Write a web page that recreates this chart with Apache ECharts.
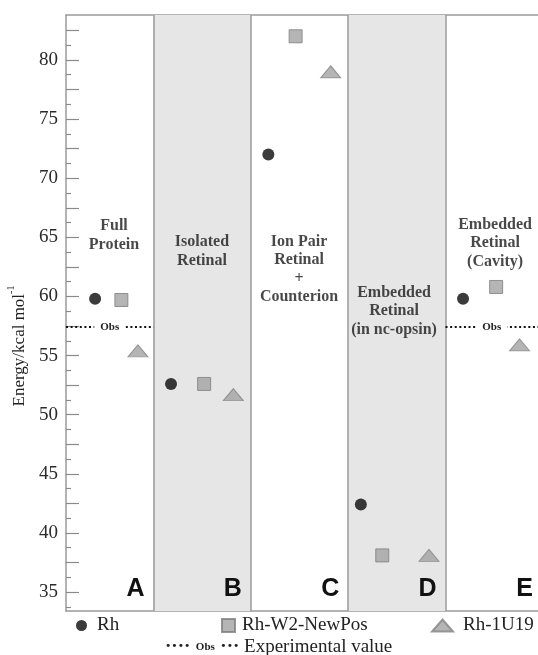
<!DOCTYPE html>
<html><head><meta charset="utf-8">
<script src="https://cdn.jsdelivr.net/npm/echarts@6/dist/echarts.min.js"></script>
<style>html,body{margin:0;padding:0;background:#fff}#c{width:538px;height:655px}</style>
</head><body><div id="c"></div>
<script>
// ---- data ----
const panelLetters = ['A', 'B', 'C', 'D', 'E'];
const panelTitles = ['Full\nProtein', 'Isolated\nRetinal', 'Ion Pair\nRetinal\n+\nCounterion', 'Embedded\nRetinal\n(in nc-opsin)', 'Embedded\nRetinal\n(Cavity)'];
const shadedPanels = [false, true, false, true, false];
// panel i spans x in [i, i+1]; x = position of the mark inside its panel
const rhX  = [0.40, 1.18, 2.18, 3.13, 4.18];
const rhY  = [59.8, 52.6, 72.0, 42.4, 59.8];
const w2X  = [0.67, 1.52, 2.46, 3.35, 4.52];
const w2Y  = [59.7, 52.6, 82.0, 38.1, 60.8];
const u19X = [0.84, 1.82, 2.82, 3.83, 4.76];
const u19Y = [55.4, 51.7, 79.0, 38.1, 55.9];
const obsValue = 57.4;
const obsPanels = [0, 4];
const yLabelValues = [35, 40, 45, 50, 55, 60, 65, 70, 75, 80];
const yLongTicks = [35, 37.5, 40, 42.5, 45, 47.5, 50, 52.5, 55, 57.5, 60, 62.5, 65, 67.5, 70, 72.5, 75, 77.5, 80, 82.5];
const yShortTicks = [33.75, 36.25, 38.75, 41.25, 43.75, 46.25, 48.75, 51.25, 53.75, 56.25, 58.75, 61.25, 63.75, 66.25, 68.75, 71.25, 73.75, 76.25, 78.75, 81.25];
const seriesNames = ['Rh', 'Rh-W2-NewPos', 'Rh-1U19'];
const obsName = 'Experimental value';

// ---- layout ----
const X_MIN = 0.101, X_MAX = 4.95, Y_MIN = 33.4, Y_MAX = 83.8;
const titleAnchors = [[0.594, 65.15], [1.498, 63.8], [2.495, 62.3], [3.471, 58.75], [4.509, 64.5]];
const SERIF = '"Liberation Serif","Times New Roman",serif';
const GRAY_LINE = '#9a9a9a';

const zip = (xs, ys) => xs.map((x, i) => [x, ys[i]]);

const panelAreas = panelLetters.map((L, i) => [
  { xAxis: Math.max(i, X_MIN), name: L,
    itemStyle: { color: shadedPanels[i] ? '#e6e6e6' : 'rgba(0,0,0,0)' },
    label: { offset: i === 4 ? [4, 0] : [0, 0] } },
  { xAxis: Math.min(i + 1, X_MAX) }
]);

const option = {
  backgroundColor: '#fff',
  animation: false,
  grid: { left: 66, right: 0, top: 15, bottom: 44, containLabel: false, outerBoundsMode: 'none' },
  xAxis: [
    { type: 'value', min: X_MIN, max: X_MAX, position: 'bottom',
      axisLine: { show: true, lineStyle: { color: GRAY_LINE, width: 1.5 } },
      axisTick: { show: false }, axisLabel: { show: false }, splitLine: { show: false } },
    { type: 'value', min: X_MIN, max: X_MAX, position: 'top',
      axisLine: { show: true, lineStyle: { color: GRAY_LINE, width: 1.5 } },
      axisTick: { show: false }, axisLabel: { show: false }, splitLine: { show: false } }
  ],
  yAxis: [
    { type: 'value', min: Y_MIN, max: Y_MAX, position: 'left',
      name: '{a|Energy/kcal mol}{s|-1}', nameLocation: 'middle', nameGap: 32, nameRotate: 90,
      nameTextStyle: { fontFamily: SERIF, fontSize: 17, color: '#222', padding: [0, 66, 0, 0],
        rich: { a: { fontFamily: SERIF, fontSize: 17, color: '#222' },
                s: { fontFamily: SERIF, fontSize: 10, color: '#222', verticalAlign: 'top', lineHeight: 26 } } },
      axisLine: { show: true, lineStyle: { color: GRAY_LINE, width: 1.5 } },
      axisTick: { show: true, inside: true, length: 13, customValues: yLongTicks, lineStyle: { color: '#8a8a8a', width: 1.2 } },
      axisLabel: { show: true, customValues: yLabelValues, margin: 8, fontFamily: SERIF, fontSize: 19, color: '#2a2a2a' },
      splitLine: { show: false } },
    { type: 'value', min: Y_MIN, max: Y_MAX, position: 'left',
      axisLine: { show: false },
      axisTick: { show: true, inside: true, length: 5, customValues: yShortTicks, lineStyle: { color: '#8a8a8a', width: 1.2 } },
      axisLabel: { show: false }, splitLine: { show: false } }
  ],
  legend: [
    { data: [seriesNames[0]], left: 71, top: 611, itemWidth: 11, itemHeight: 11, selectedMode: false,
      textStyle: { fontFamily: SERIF, fontSize: 19, color: '#222', padding: [0, 0, 0, 5] } },
    { data: [seriesNames[1]], left: 216, top: 611, itemWidth: 13, itemHeight: 13, selectedMode: false,
      textStyle: { fontFamily: SERIF, fontSize: 19, color: '#222', padding: [0, 0, 0, 2] } },
    { data: [seriesNames[2]], left: 426, top: 611, itemWidth: 21, itemHeight: 12, selectedMode: false,
      textStyle: { fontFamily: SERIF, fontSize: 19, color: '#222', padding: [0, 0, 0, 5] } },
    { data: [{ name: obsName, icon: 'none' }], left: 155, top: 633, itemWidth: 0, itemHeight: 0, itemGap: 0, selectedMode: false,
      formatter: n => '{d|····}{o|  Obs  }{d|···} {t|' + n + '}',
      textStyle: { fontFamily: SERIF, fontSize: 19, color: '#222',
        rich: { d: { fontFamily: SERIF, fontSize: 19, fontWeight: 'bold', color: '#222' },
                o: { fontFamily: SERIF, fontSize: 11, fontWeight: 'bold', color: '#222' },
                t: { fontFamily: SERIF, fontSize: 19, color: '#222' } } } }
  ],
  series: [
    { type: 'scatter', name: '__panels', data: [], silent: true, z: 1,
      markArea: { silent: true, data: panelAreas,
        label: { show: true, position: 'insideBottomRight', distance: 9,
          fontFamily: '"Liberation Sans",Arial,sans-serif', fontWeight: 'bold', fontSize: 25, color: '#111' } },
      markLine: { silent: true, symbol: 'none', label: { show: false },
        lineStyle: { color: GRAY_LINE, width: 1.5, type: 'solid' },
        data: [1, 2, 3, 4].map(v => ({ xAxis: v })) } },
    { type: 'scatter', name: '__titles', silent: true, z: 3, symbolSize: 0,
      data: titleAnchors.map((p, i) => ({ value: p, title: panelTitles[i] })),
      label: { show: true, position: 'inside', formatter: p => p.data.title,
        fontFamily: SERIF, fontWeight: 'bold', fontSize: 16, lineHeight: 18.5, color: '#1a1a1a', align: 'center', verticalAlign: 'middle' } },
    { type: 'line', name: obsName, data: [], symbol: 'none', z: 4,
      lineStyle: { color: '#111', width: 2, type: [2, 2.6] },
      markLine: { silent: true, symbol: 'none',
        lineStyle: { color: '#111', width: 2, type: [2, 2.6] },
        label: { show: true, position: 'middle', formatter: 'Obs', distance: 0, verticalAlign: 'middle',
          fontFamily: SERIF, fontWeight: 'bold', fontSize: 11, color: '#222', backgroundColor: '#fff', padding: [1, 6] },
        data: obsPanels.map(i => [
          { coord: [Math.max(i, X_MIN), obsValue] },
          { coord: [Math.min(i + 1, X_MAX), obsValue] }
        ]) } },
    { type: 'scatter', name: seriesNames[0], data: zip(rhX, rhY), z: 5,
      symbol: 'circle', symbolSize: 12, itemStyle: { color: '#0a0a0a' } },
    { type: 'scatter', name: seriesNames[1], data: zip(w2X, w2Y), z: 5,
      symbol: 'rect', symbolSize: 13, itemStyle: { color: '#a3a3a3', borderColor: '#7d7d7d', borderWidth: 1 } },
    { type: 'scatter', name: seriesNames[2], data: zip(u19X, u19Y), z: 5,
      symbol: 'triangle', symbolSize: [20, 12], itemStyle: { color: '#a3a3a3', borderColor: '#858585', borderWidth: 1 } }
  ]
};
const chart = echarts.init(document.getElementById('c'), null, { renderer: 'canvas' });
chart.setOption(option);
</script>
</body></html>
